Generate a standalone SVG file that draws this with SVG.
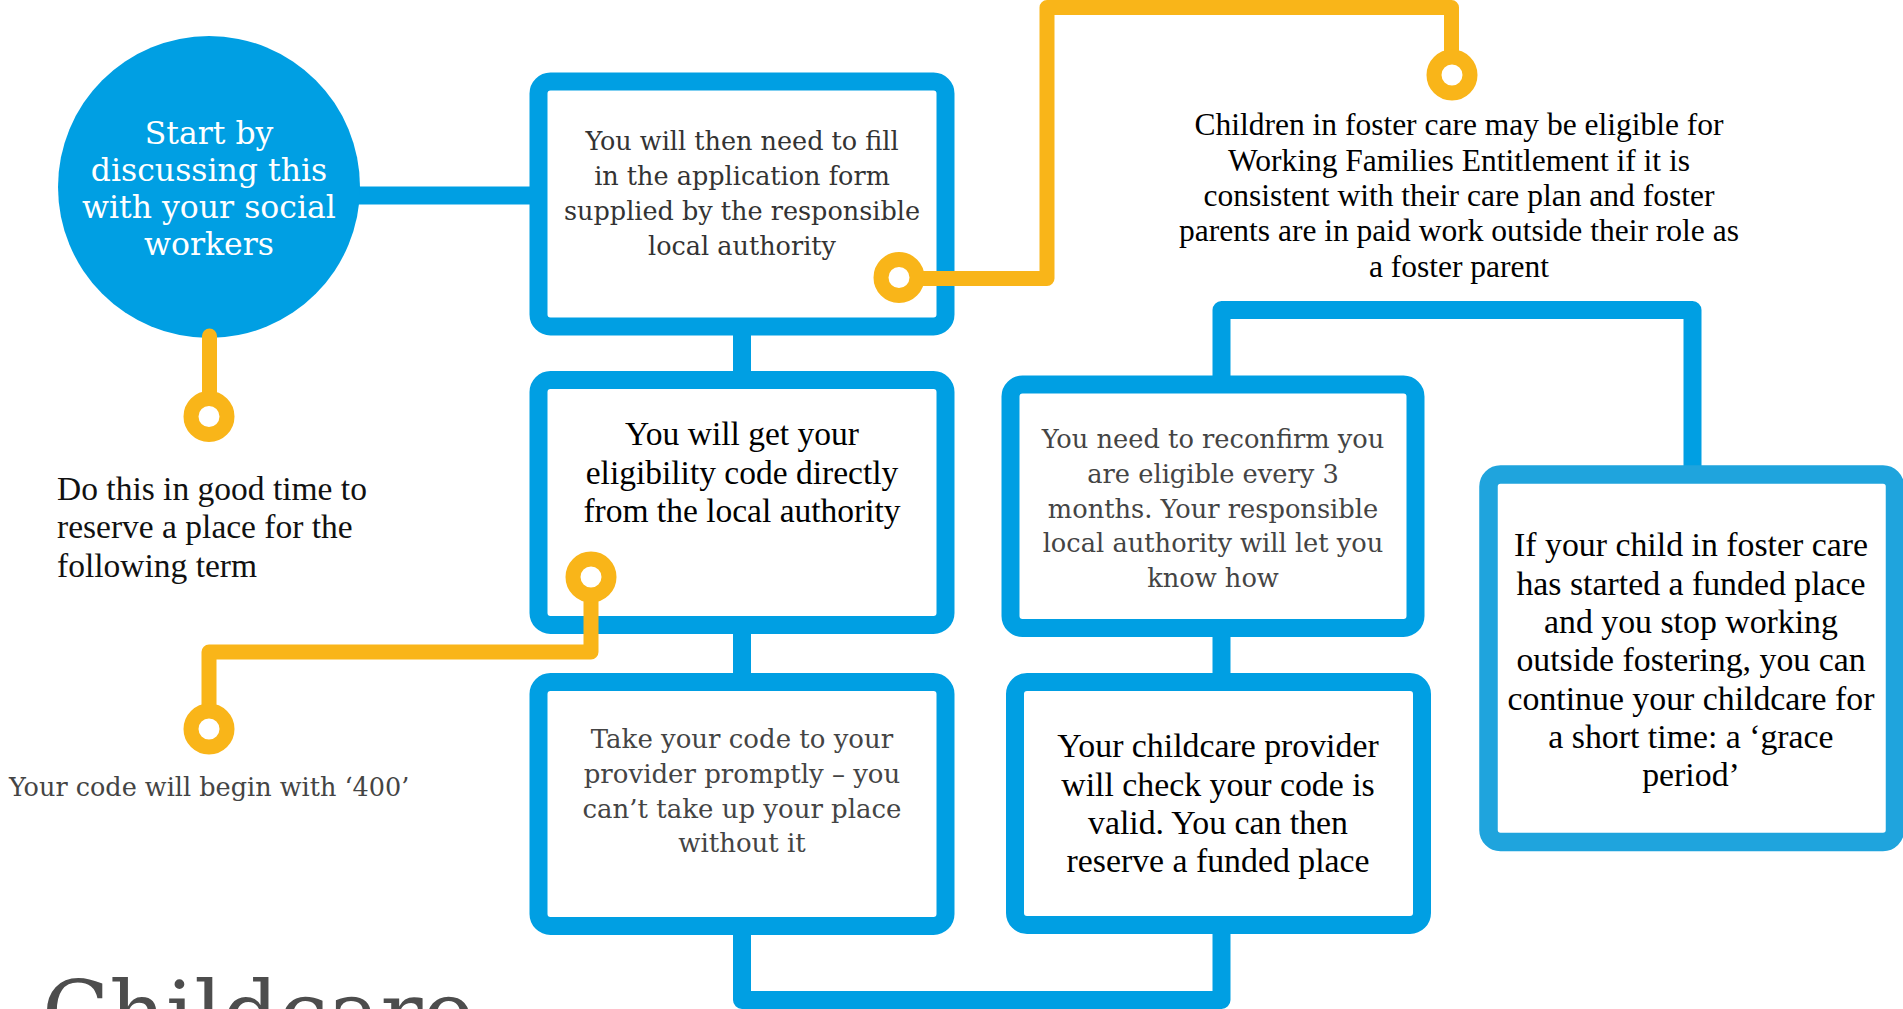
<svg xmlns="http://www.w3.org/2000/svg" width="1903" height="1009" viewBox="0 0 1903 1009">
<style>
.box{fill:#fff;stroke:#009FE3;stroke-width:18}
.box6{fill:#fff;stroke:#1FA4DD;stroke-width:18.5}
.blue{fill:none;stroke:#009FE3;stroke-width:18;stroke-linejoin:round}
.orange{fill:none;stroke:#F9B519;stroke-width:15;stroke-linejoin:round;stroke-linecap:round}
.ring{fill:#fff;stroke:#F9B519;stroke-width:15}
.slab{font-family:"DejaVu Serif","Liberation Serif",serif;text-anchor:middle}
.times{font-family:"Liberation Serif","DejaVu Serif",serif;text-anchor:middle}
</style>
<rect width="1903" height="1009" fill="#fff"/>
<g id="connectors">
<path class="blue" d="M340,195.5 H540"/>
<path class="blue" d="M742,326 V381"/>
<path class="blue" d="M742,624 V683"/>
<path class="blue" d="M742,925 V1000 H1221.5 V925"/>
<path class="blue" d="M1221.5,628 V683"/>
<path class="blue" d="M1221.5,385 V310 H1692.5 V476"/>
</g>
<g id="start">
<circle cx="209" cy="187" r="151" fill="#009FE3"/>
<text class="slab" font-size="31.5" fill="#fff"><tspan x="209" y="144">Start by</tspan><tspan x="209" y="181">discussing this</tspan><tspan x="209" y="218">with your social</tspan><tspan x="209" y="255">workers</tspan></text>
</g>
<g id="note-good-time">
<text font-family="Liberation Serif, DejaVu Serif, serif" font-size="33.5" fill="#111"><tspan x="57" y="500">Do this in good time to</tspan><tspan x="57" y="538">reserve a place for the</tspan><tspan x="57" y="577">following term</tspan></text>
</g>
<g id="note-code">
<text font-family="DejaVu Serif, Liberation Serif, serif" font-size="25.5" fill="#444" x="9" y="796">Your code will begin with ‘400’</text>
</g>
<g id="box-application">
<rect class="box" x="538.5" y="81.5" width="407" height="245" rx="12"/>
<text class="slab" font-size="25.5" fill="#333"><tspan x="742" y="150">You will then need to fill</tspan><tspan x="742" y="185">in the application form</tspan><tspan x="742" y="220">supplied by the responsible</tspan><tspan x="742" y="255">local authority</tspan></text>
</g>
<g id="box-eligibility">
<rect class="box" x="538.5" y="380" width="407" height="245" rx="12"/>
<text class="times" font-size="33.5" fill="#000"><tspan x="742" y="445">You will get your</tspan><tspan x="742" y="484">eligibility code directly</tspan><tspan x="742" y="522">from the local authority</tspan></text>
</g>
<g id="box-take-code">
<rect class="box" x="538.5" y="682" width="407" height="244" rx="12"/>
<text class="slab" font-size="26" fill="#444"><tspan x="742" y="748">Take your code to your</tspan><tspan x="742" y="783">provider promptly – you</tspan><tspan x="742" y="818">can’t take up your place</tspan><tspan x="742" y="852">without it</tspan></text>
</g>
<g id="box-reconfirm">
<rect class="box" x="1010.5" y="384.5" width="405" height="243.5" rx="12"/>
<text class="slab" font-size="25.7" fill="#444"><tspan x="1213" y="448">You need to reconfirm you</tspan><tspan x="1213" y="483">are eligible every 3</tspan><tspan x="1213" y="517.5">months. Your responsible</tspan><tspan x="1213" y="552">local authority will let you</tspan><tspan x="1213" y="587">know how</tspan></text>
</g>
<g id="box-provider">
<rect class="box" x="1015" y="682" width="407" height="243" rx="12"/>
<text class="times" font-size="33.8" fill="#000"><tspan x="1218" y="757">Your childcare provider</tspan><tspan x="1218" y="795.5">will check your code is</tspan><tspan x="1218" y="834">valid. You can then</tspan><tspan x="1218" y="872">reserve a funded place</tspan></text>
</g>
<g id="box-grace">
<rect class="box6" x="1488.5" y="474.5" width="406.5" height="367.5" rx="12"/>
<text class="times" font-size="33.8" fill="#000"><tspan x="1691" y="556">If your child in foster care</tspan><tspan x="1691" y="594.5">has started a funded place</tspan><tspan x="1691" y="633">and you stop working</tspan><tspan x="1691" y="671">outside fostering, you can</tspan><tspan x="1691" y="709.5">continue your childcare for</tspan><tspan x="1691" y="747.5">a short time: a ‘grace</tspan><tspan x="1691" y="786">period’</tspan></text>
</g>
<g id="note-foster">
<text class="times" font-size="31.5" fill="#000"><tspan x="1459" y="135">Children in foster care may be eligible for</tspan><tspan x="1459" y="170.5">Working Families Entitlement if it is</tspan><tspan x="1459" y="206">consistent with their care plan and foster</tspan><tspan x="1459" y="241">parents are in paid work outside their role as</tspan><tspan x="1459" y="276.5">a foster parent</tspan></text>
</g>
<g id="title">
<text font-family="DejaVu Serif, Liberation Serif, serif" font-size="88" fill="#4d4d4d" x="42" y="1044">Childcare</text>
</g>
<g id="callout-connectors">
<path class="orange" d="M209.5,336 V416.5"/>
<circle class="ring" cx="209" cy="416.5" r="18"/>
<path class="orange" d="M591,577 V652 H209 V729"/>
<circle class="ring" cx="591" cy="577" r="18"/>
<circle class="ring" cx="209" cy="729" r="18"/>
<path class="orange" d="M899,278.5 H1047 V7.5 H1451.5 V75"/>
<circle class="ring" cx="899" cy="277.5" r="18"/>
<circle class="ring" cx="1452" cy="75" r="18"/>
</g>
</svg>
